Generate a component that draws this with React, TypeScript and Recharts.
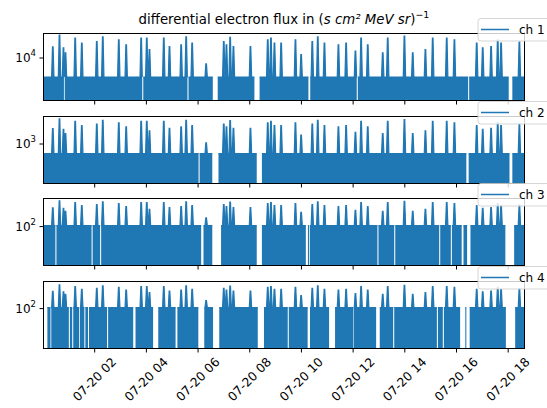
import { AreaChart, Area, XAxis, YAxis } from "recharts";

// hours after 07-20 00:00
const hourTicks = [2, 4, 6, 8, 10, 12, 14, 16, 18];
const hourLabels = [
  "07-20 02",
  "07-20 04",
  "07-20 06",
  "07-20 08",
  "07-20 10",
  "07-20 12",
  "07-20 14",
  "07-20 16",
  "07-20 18",
];
const END_HOUR = 18.65;

// times of the flux bursts (hours), same events in every channel
const spikeHours = [
  0.379, 0.638, 0.793, 0.87, 1.246, 1.501, 2.081, 2.313, 2.932, 3.219,
  3.799, 4.015, 4.12, 4.673, 4.894, 5.346, 5.54, 5.772, 6.313, 6.994,
  7.099, 7.242, 7.369, 8.027, 8.696, 8.82, 8.956, 9.215, 9.768, 9.988,
  10.42, 10.631, 10.89, 11.431, 11.729, 12.089, 12.309, 12.565, 13.145, 13.338,
  13.985, 14.306, 14.797, 15.079, 15.621, 15.919, 16.781, 17.014, 17.338, 17.594,
  17.725, 18.433,
];

const ch1Base = 4820;
const ch1Peaks = [
  15300, 24000, 14800, 12200, 21500, 17700, 18800, 22500, 20100, 16600,
  21500, 21500, 13800, 21500, 15500, 16600, 22500, 17700, 7980, 18800,
  16600, 22200, 15500, 15500, 20100, 21500, 17700, 17700, 20100, 11400,
  18800, 22500, 17700, 16600, 17700, 13000, 21500, 16600, 12200, 21500,
  23300, 12200, 13800, 21500, 21500, 20100, 17700, 14800, 15500, 20100,
  17700, 18500,
];
const ch1Gaps = [
  [0.81, 0.84], [3.84, 3.88], [5.59, 5.63], [6.57, 6.76], [8.18, 8.38],
  [10.27, 10.34], [12.14, 12.18], [16.45, 16.49], [18.02, 18.16],
];

const ch2Base = 692;
const ch2Peaks = [
  1800, 2620, 1750, 1490, 2390, 2030, 2140, 2490, 2260, 1930,
  2390, 2390, 1660, 2390, 1820, 1930, 2490, 2030, 1050, 2140,
  1930, 2450, 1820, 1820, 2260, 2390, 2030, 2030, 2260, 1410,
  2140, 2490, 2030, 1930, 2030, 1570, 2390, 1930, 1490, 2390,
  2550, 1490, 1660, 2390, 2390, 2260, 2030, 1750, 1820, 2260,
  2030, 2120,
];
const ch2Gaps = [
  [6.02, 6.06], [6.55, 6.79], [8.27, 8.47], [16.38, 16.47], [18.05, 18.16],
];

const ch3Base = 105;
const ch3Peaks = [
  237, 327, 232, 202, 302, 263, 275, 313, 288, 251,
  302, 302, 221, 302, 240, 251, 313, 263, 150, 275,
  251, 309, 240, 240, 288, 302, 263, 263, 288, 193,
  275, 313, 263, 251, 263, 211, 302, 251, 202, 302,
  320, 202, 221, 302, 302, 288, 263, 232, 240, 288,
  263, 272,
];
const ch3Gaps = [
  [0.48, 0.52], [1.88, 1.92], [2.21, 2.25], [6.12, 6.21], [6.55, 6.89],
  [8.27, 8.47], [10.17, 10.25], [10.3, 10.33], [12.94, 12.98], [13.59, 13.63],
  [15.33, 15.37], [15.78, 15.82], [16.2, 16.27], [16.41, 16.54], [17.89, 18.23],
];

const ch4Base = 105;
const ch4Peaks = [
  222, 299, 217, 192, 277, 244, 255, 286, 266, 234,
  277, 277, 208, 277, 224, 234, 286, 244, 145, 255,
  234, 283, 224, 224, 266, 277, 244, 244, 266, 183,
  255, 286, 244, 234, 244, 200, 277, 234, 192, 277,
  292, 192, 208, 277, 277, 266, 244, 217, 224, 266,
  244, 252,
];
const ch4Gaps = [
  [0, 0.17], [0.29, 0.32], [1.0, 1.04], [1.13, 1.17], [1.4, 1.43],
  [1.6, 1.64], [1.74, 1.78], [2.48, 2.52], [3.49, 3.58], [4.26, 4.46],
  [5.13, 5.2], [6.01, 6.24], [6.58, 6.82], [8.31, 8.55], [9.47, 9.51],
  [10.24, 10.33], [11.07, 11.3], [12.0, 12.02], [12.89, 13.03], [13.55, 13.59],
  [15.24, 15.28], [15.47, 15.51], [16.14, 16.34], [16.38, 16.51], [17.91, 18.27],
];

type Pt = { t: number; v: number | null };

// turn bursts + data gaps into a point list (log10 flux)
function buildSeries(base: number, peaks: number[], gaps: number[][]) {
  let pts: Pt[] = [{ t: 0, v: base }, { t: END_HOUR, v: base }];
  spikeHours.forEach((t, i) => {
    pts.push(
      { t: t - 0.045, v: base },
      { t: t - 0.012, v: peaks[i] },
      { t: t + 0.012, v: peaks[i] },
      { t: t + 0.045, v: base }
    );
  });
  pts = pts.filter((p) => !gaps.some(([a, b]) => p.t >= a && p.t <= b));
  gaps.forEach(([a, b]) => {
    if (a > 0) pts.push({ t: a, v: base });
    pts.push({ t: (a + b) / 2, v: null });
    pts.push({ t: b, v: base });
  });
  pts.sort((p, q) => p.t - q.t);
  return pts.map((p) => ({ t: p.t, v: p.v === null ? null : Math.log10(p.v) }));
}

const channels = [
  { name: "ch 1", data: buildSeries(ch1Base, ch1Peaks, ch1Gaps), lo: 3.283, hi: 4.417, tick: 4, top: 33 },
  { name: "ch 2", data: buildSeries(ch2Base, ch2Peaks, ch2Gaps), lo: 2.333, hi: 3.467, tick: 3, top: 116 },
  { name: "ch 3", data: buildSeries(ch3Base, ch3Peaks, ch3Gaps), lo: 1.212, hi: 2.572, tick: 2, top: 198 },
  { name: "ch 4", data: buildSeries(ch4Base, ch4Peaks, ch4Gaps), lo: 1.192, hi: 2.552, tick: 2, top: 281 },
];

const FONT = "DejaVu Sans";
const BLUE = "#1f77b4";
const PLOT_LEFT = 43;
const PLOT_W = 482;
const PLOT_H = 68;

const YTick = ({ x, y, payload }: any) => (
  <text x={x} y={y} textAnchor="end" dominantBaseline="central" fontSize={12} fill="#000" fontFamily={FONT}>
    10
    <tspan dy={-5} fontSize={8.5}>
      {payload.value}
    </tspan>
  </text>
);

const XTick = ({ x, y, payload }: any) => {
  const label = hourLabels[hourTicks.indexOf(payload.value)];
  const cy = y + 25;
  return (
    <text
      x={x}
      y={cy}
      transform={`rotate(-45 ${x} ${cy})`}
      textAnchor="middle"
      dominantBaseline="central"
      fontSize={12.3}
      fill="#000"
      fontFamily={FONT}
    >
      {label}
    </text>
  );
};

const NoTick = () => <g />;

export default function App() {
  return (
    <div style={{ position: "absolute", left: 0, top: 0, width: 547, height: 408, overflow: "hidden", background: "#fff" }}>
      {channels.map((ch, i) => {
        const last = i === channels.length - 1;
        const xh = last ? 59 : 6;
        return (
          <div key={ch.name} style={{ position: "absolute", left: 0, top: ch.top - 16 }}>
            <AreaChart
              width={547}
              height={16 + PLOT_H + xh}
              data={ch.data}
              margin={{ top: 16, right: 547 - PLOT_LEFT - PLOT_W, bottom: 0, left: 0 }}
            >
              <XAxis
                dataKey="t"
                type="number"
                domain={[0, END_HOUR]}
                ticks={hourTicks}
                allowDataOverflow
                axisLine={false}
                tickLine={{ stroke: "#000" }}
                tickSize={3.5}
                tickMargin={2}
                height={xh}
                interval={0}
                tick={last ? <XTick /> : <NoTick />}
              />
              <YAxis
                type="number"
                domain={[ch.lo, ch.hi]}
                ticks={[ch.tick]}
                allowDataOverflow
                axisLine={false}
                tickLine={{ stroke: "#000" }}
                tickSize={3.5}
                tickMargin={3.5}
                width={PLOT_LEFT}
                tick={<YTick />}
              />
              <Area
                type="linear"
                dataKey="v"
                name={ch.name}
                stroke={BLUE}
                strokeWidth={1.2}
                fill={BLUE}
                fillOpacity={1}
                baseValue={ch.lo}
                connectNulls={false}
                dot={false}
                activeDot={false}
                isAnimationActive={false}
              />
            </AreaChart>
          </div>
        );
      })}
      <svg width={547} height={408} style={{ position: "absolute", left: 0, top: 0, pointerEvents: "none" }}>
        <text x={284} y={23.5} textAnchor="middle" fontSize={13.3} fontFamily={FONT} fill="#000">
          differential electron flux in (<tspan fontStyle="italic">s cm² MeV sr</tspan>)
          <tspan dy={-6} fontSize={9.5}>
            −1
          </tspan>
        </text>
        {channels.map((ch) => {
          const ly = ch.top - 14.5;
          return (
            <g key={ch.name}>
              <rect x={PLOT_LEFT + 0.5} y={ch.top + 0.5} width={PLOT_W - 1} height={PLOT_H - 1} fill="none" stroke="#000" strokeWidth={1} />
              <rect x={478} y={ly} width={90} height={22.5} rx={3} fill="#fff" fillOpacity={0.8} stroke="#ccc" strokeOpacity={0.8} />
              <line x1={481} x2={509} y1={ly + 11} y2={ly + 11} stroke={BLUE} strokeWidth={1.5} />
              <text x={519} y={ly + 11} dominantBaseline="central" fontSize={12} fontFamily={FONT} fill="#000">
                {ch.name}
              </text>
            </g>
          );
        })}
      </svg>
    </div>
  );
}
